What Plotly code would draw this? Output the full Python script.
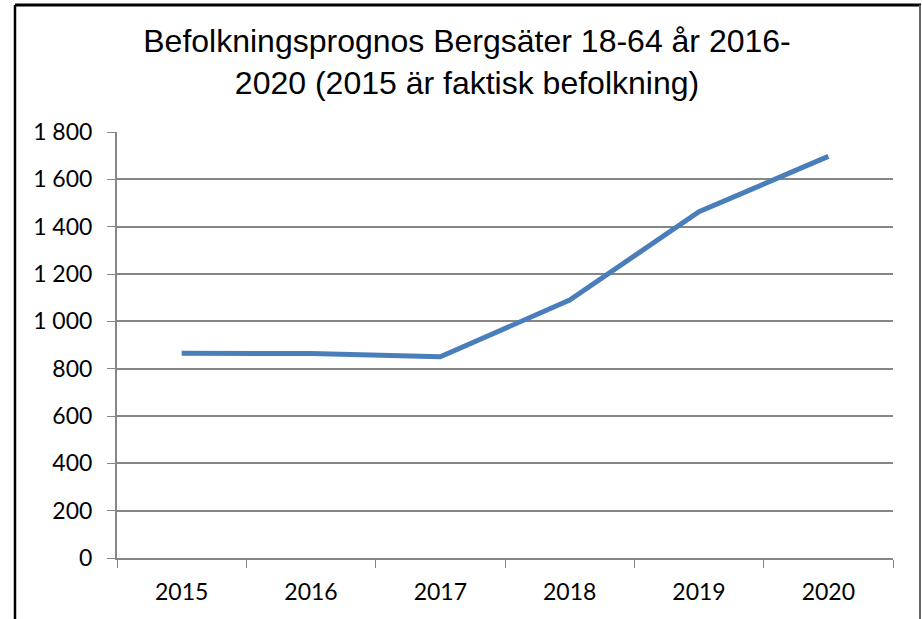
import plotly.graph_objects as go

years = ["2015", "2016", "2017", "2018", "2019", "2020"]
population = [865, 864, 850, 1090, 1463, 1697]
y_ticks = [0, 200, 400, 600, 800, 1000, 1200, 1400, 1600, 1800]
y_tick_labels = ["0", "200", "400", "600", "800", "1 000", "1 200", "1 400", "1 600", "1 800"]

title_text = "Befolkningsprognos Bergsäter 18-64 år 2016-<br>2020 (2015 är faktisk befolkning)"

fig = go.Figure()
fig.add_trace(go.Scatter(
    x=years, y=population, mode="lines",
    line=dict(color="#4A7EBB", width=5),
    showlegend=False, hoverinfo="x+y",
))

grid = "#868686"
fig.update_layout(
    width=922, height=619,
    margin=dict(l=117, r=29, t=132, b=61),
    paper_bgcolor="white", plot_bgcolor="white",
    title=dict(text=title_text, x=467/922, xanchor="center", y=1 - 52/619, yanchor="top",
               yref="container", xref="container",
               font=dict(family="Liberation Sans, Arial, sans-serif", size=32, color="black")),
    font=dict(family="Lato, Open Sans, sans-serif", color="black"),
    xaxis=dict(type="category", tickson="boundaries", ticks="outside", ticklen=8, tickcolor=grid,
               showline=True, linecolor=grid, linewidth=2, showgrid=False,
               tickfont=dict(size=23, color="black"), range=[-0.5, 5.5], fixedrange=True,
               ticklabelstandoff=12),
    yaxis=dict(range=[0, 1800], tickvals=y_ticks, ticktext=y_tick_labels, ticks="outside",
               ticklen=8, tickcolor=grid, showline=True, linecolor=grid, linewidth=2,
               showgrid=True, gridcolor=grid, gridwidth=1.5, zeroline=False,
               tickfont=dict(size=23, color="black"), fixedrange=True,
               ticklabelstandoff=10),
    shapes=[
        dict(type="line", xref="paper", yref="paper", x0=(15-117)/776, x1=(15-117)/776,
             y0=(558-5)/426, y1=(558-640)/426, line=dict(color="black", width=2.5)),
        dict(type="line", xref="paper", yref="paper", x0=(15-117)/776, x1=(921-117)/776,
             y0=(558-5)/426, y1=(558-5)/426, line=dict(color="black", width=3)),
        dict(type="line", xref="paper", yref="paper", x0=(920-117)/776, x1=(920-117)/776,
             y0=(558-5)/426, y1=(558-640)/426, line=dict(color="#666666", width=2)),
    ],
)

fig.write_html("out.html", config={"displayModeBar": False},
               post_script="document.body.style.margin='0';document.body.style.overflow='hidden';")
